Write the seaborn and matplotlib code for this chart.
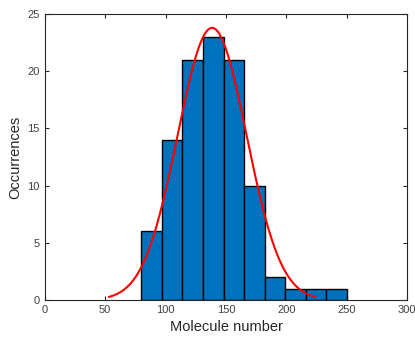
import matplotlib
matplotlib.use("Agg")
import matplotlib.pyplot as plt
import numpy as np
import seaborn as sns

# histogram bins (edges) and counts
bin_edges = [80, 97, 114, 131, 148, 165, 182, 199, 216, 233, 250]
counts = [6, 14, 21, 23, 21, 10, 2, 1, 1, 1]

# fitted normal curve (histfit style)
fit_mu = 138.5
fit_sigma = 28.5
fit_range = [53, 224]

sns.set_style("ticks")
plt.rcParams['font.family'] = ['Liberation Sans', 'DejaVu Sans']

fig = plt.figure(figsize=(4.15, 3.44), dpi=100)
ax = fig.add_axes([0.108, 0.128, 0.873, 0.831])

centers = [(a + b) / 2 for a, b in zip(bin_edges[:-1], bin_edges[1:])]
sns.histplot(x=centers, weights=counts, bins=bin_edges, ax=ax,
             color="#0072BD", alpha=1, edgecolor="black", linewidth=1.0)

bw = bin_edges[1] - bin_edges[0]
xs = np.linspace(fit_range[0], fit_range[1], 200)
ys = sum(counts) * bw / (fit_sigma * np.sqrt(2 * np.pi)) * np.exp(-(xs - fit_mu) ** 2 / (2 * fit_sigma ** 2))
sns.lineplot(x=xs, y=ys, ax=ax, color="red", linewidth=1.5)

ax.set_xlim(0, 300)
ax.set_ylim(0, 25)
ax.set_xticks(range(0, 301, 50))
ax.set_yticks(range(0, 26, 5))
ax.set_xlabel("Molecule number", fontsize=10.5)
ax.set_ylabel("Occurrences", fontsize=10.5)
for s in ax.spines.values():
    s.set_visible(True)
    s.set_color("#262626")
    s.set_linewidth(0.8)
ax.tick_params(direction="in", top=True, right=True, labelsize=8,
               colors="#262626", labelcolor="#404040", length=3, width=0.8)

fig.savefig("out.png", dpi=100)
